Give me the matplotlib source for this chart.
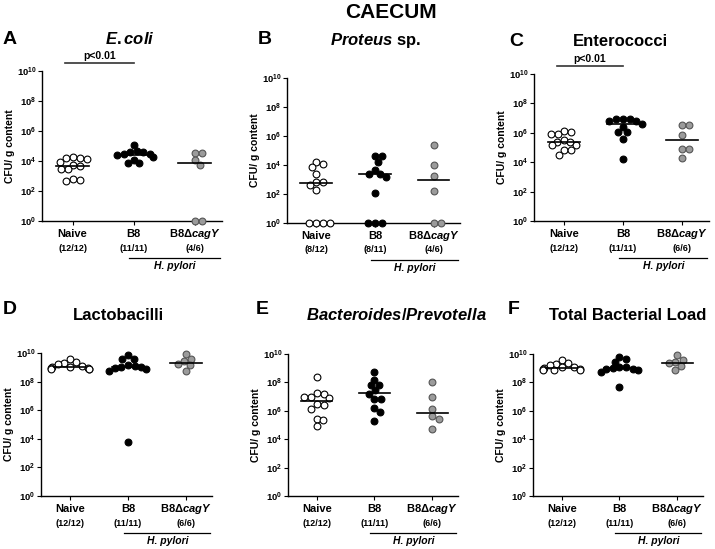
import numpy as np
import matplotlib
matplotlib.use('Agg')
import matplotlib.pyplot as plt
from matplotlib.ticker import NullLocator
from matplotlib.transforms import offset_copy

plt.rcParams['font.family'] = ['Liberation Sans', 'DejaVu Sans']
plt.rcParams['font.weight'] = 'bold'
plt.rcParams['mathtext.fontset'] = 'custom'
plt.rcParams['mathtext.rm'] = 'Liberation Sans:bold'
plt.rcParams['mathtext.bf'] = 'Liberation Sans:bold'
plt.rcParams['mathtext.it'] = 'Liberation Sans:bold:italic'

# log10(CFU / g content); 0 means nothing detected (drawn at 10^0)
groups = ['Naive', 'B8', 'B8Δ$\\mathit{cagY}$']

ecoli_naive = [4.25, 4.2, 4.2, 4.15, 3.95, 3.75, 3.7, 3.45, 3.45, 2.8, 2.75, 2.7]
ecoli_b8 = [5.1, 4.7, 4.6, 4.6, 4.5, 4.45, 4.4, 4.3, 4.1, 3.85, 3.85]
ecoli_dcag = [4.55, 4.55, 4.05, 3.75, 0, 0]
ecoli_med = [3.65, 4.4, 3.9]
ecoli_n = ['(12/12)', '(11/11)', '(4/6)']

proteus_naive = [4.22, 4.08, 3.85, 3.4, 2.85, 2.85, 2.6, 2.25, 0, 0, 0, 0]
proteus_b8 = [4.62, 4.62, 4.22, 3.64, 3.38, 3.38, 3.15, 2.05, 0, 0, 0]
proteus_dcag = [5.36, 4.0, 3.22, 2.24, 0, 0]
proteus_med = [2.75, 3.38, 2.94]
proteus_n = ['(8/12)', '(8/11)', '(4/6)']

entero_naive = [6.12, 6.08, 5.9, 5.9, 5.5, 5.4, 5.4, 5.2, 5.15, 4.85, 4.8, 4.5]
entero_b8 = [6.92, 6.92, 6.92, 6.78, 6.78, 6.6, 6.42, 6.08, 6.08, 5.56, 4.2]
entero_dcag = [6.53, 6.53, 5.85, 4.88, 4.88, 4.26]
entero_med = [5.4, 6.58, 5.51]
entero_n = ['(12/12)', '(11/11)', '(6/6)']

lacto_naive = [9.6, 9.35, 9.3, 9.2, 9.1, 9.05, 9.0, 8.95, 8.95, 8.9, 8.9, 8.9]
lacto_b8 = [9.85, 9.6, 9.55, 9.15, 9.1, 9.05, 9.0, 8.95, 8.9, 8.75, 3.75]
lacto_dcag = [9.9, 9.6, 9.45, 9.2, 9.15, 8.75]
lacto_med = [9.05, 9.05, 9.32]
lacto_n = ['(12/12)', '(11/11)', '(6/6)']

bact_naive = [8.35, 7.25, 7.2, 6.95, 6.95, 6.9, 6.45, 6.4, 6.15, 5.45, 5.35, 4.95]
bact_b8 = [8.75, 8.2, 7.85, 7.8, 7.45, 7.2, 6.85, 6.85, 6.2, 5.95, 5.25]
bact_dcag = [8.0, 6.95, 6.1, 5.6, 5.45, 4.7]
bact_med = [6.69, 7.23, 5.87]
bact_n = ['(12/12)', '(11/11)', '(6/6)']

total_naive = [9.6, 9.35, 9.3, 9.2, 9.1, 9.05, 9.0, 8.95, 8.95, 8.9, 8.9, 8.85]
total_b8 = [9.8, 9.65, 9.45, 9.1, 9.05, 9.0, 8.95, 8.95, 8.9, 8.75, 7.7]
total_dcag = [9.9, 9.6, 9.45, 9.35, 9.15, 8.85]
total_med = [9.04, 9.04, 9.38]
total_n = ['(12/12)', '(11/11)', '(6/6)']

panels = [
    ('A', '$\\mathit{E. coli}$', [ecoli_naive, ecoli_b8, ecoli_dcag], ecoli_med, ecoli_n, True),
    ('B', '$\\mathit{Proteus}$ sp.', [proteus_naive, proteus_b8, proteus_dcag], proteus_med, proteus_n, False),
    ('C', 'Enterococci', [entero_naive, entero_b8, entero_dcag], entero_med, entero_n, True),
    ('D', 'Lactobacilli', [lacto_naive, lacto_b8, lacto_dcag], lacto_med, lacto_n, False),
    ('E', '$\\mathit{Bacteroides/Prevotella}$', [bact_naive, bact_b8, bact_dcag], bact_med, bact_n, False),
    ('F', 'Total Bacterial Load', [total_naive, total_b8, total_dcag], total_med, total_n, False),
]

W, H = 715, 549
rects = [(42, 222, 71, 221), (287, 460, 78, 223), (534, 709, 74, 221),
         (41, 212, 353, 496), (288, 458, 354, 496), (533, 703, 354, 496)]
letter_pos = [(3, 39), (258, 39), (509, 42), (3, 310), (256, 310), (508, 309)]
title_pos = [(130, 39), (376, 41), (620, 42), (118, 316), (396, 315), (628, 315)]

face = ['white', 'black', '#9b9b9b']
edge = ['black', 'black', '#555555']


def swarm(vals, ax, j, diam=6.6, maxoff=0.32):
    y = np.array(vals, float)
    pts = ax.transData.transform(np.column_stack([np.full(len(y), j), 10 ** y]))
    py = pts[:, 1]
    ux = ax.transData.transform([[j + 1, 1]])[0, 0] - pts[0, 0]
    cands = [0.0]
    for k in range(1, 80):
        cands += [k * 0.5, -k * 0.5]
    placed = []
    offs = np.zeros(len(y))
    for i in np.argsort(-y, kind='stable'):
        for c in cands:
            if all((c - qx) ** 2 + (py[i] - qy) ** 2 >= diam ** 2 for qx, qy in placed):
                break
        placed.append((c, py[i]))
        offs[i] = np.clip(c / ux, -maxoff, maxoff)
    return offs


fig = plt.figure(figsize=(W / 100, H / 100), dpi=100)
fig.text(391 / W, 1 - 12 / H, 'CAECUM', ha='center', va='center', fontsize=15, fontweight='bold')

for p, (letter, title, data, med, counts, sig) in enumerate(panels):
    l, r, t, b = rects[p]
    ax = fig.add_axes([l / W, 1 - b / H, (r - l) / W, (b - t) / H])
    ax.set_yscale('log')
    ax.set_ylim(1, 1e10)
    ax.set_xlim(-0.5, 2.45)
    ax.set_yticks([10.0 ** k for k in range(0, 11, 2)])
    ax.set_yticklabels(['$\\mathbf{10^{%d}}$' % k for k in range(0, 11, 2)])
    ax.yaxis.set_minor_locator(NullLocator())
    ax.set_xticks([0, 1, 2])
    ax.set_xticklabels([])
    ax.tick_params(axis='both', length=3, width=0.8, pad=1, labelsize=6.8)
    for s in ['top', 'right']:
        ax.spines[s].set_visible(False)
    for s in ['left', 'bottom']:
        ax.spines[s].set_linewidth(1.0)
    ax.set_ylabel('CFU/ g content', fontsize=7.5, fontweight='bold')
    ax.yaxis.set_label_coords(0, 0.5, transform=offset_copy(ax.transAxes, fig=fig, x=-27, units='dots'))

    for j, vals in enumerate(data):
        offs = swarm(vals, ax, j)
        ax.scatter(j + offs, 10 ** np.array(vals, float), s=24, facecolor=face[j],
                   edgecolor=edge[j], linewidth=0.8, clip_on=False, zorder=3)
        ax.plot([j - 0.27, j + 0.27], [10 ** med[j]] * 2, color='black', lw=1.2, zorder=4)

    xt = ax.get_xaxis_transform()
    for j in range(3):
        ax.annotate(groups[j], xy=(j, 0), xycoords=xt, xytext=(0, -13 * 0.72),
                    textcoords='offset points', ha='center', va='center', fontsize=8,
                    fontweight='bold', annotation_clip=False)
        ax.annotate(counts[j], xy=(j, 0), xycoords=xt, xytext=(0, -27 * 0.72),
                    textcoords='offset points', ha='center', va='center', fontsize=6.5,
                    fontweight='bold', annotation_clip=False)
    line_tr = offset_copy(xt, fig=fig, y=-37, units='dots')
    ax.plot([0.93, 2.42], [0, 0], color='black', lw=0.9, transform=line_tr, clip_on=False)
    ax.annotate('H. pylori', xy=(1.68, 0), xycoords=xt, xytext=(0, -45 * 0.72),
                textcoords='offset points', ha='center', va='center', fontsize=7.5,
                fontweight='bold', fontstyle='italic', annotation_clip=False)

    if sig:
        ax.plot([-0.12, 1.0], [1.052, 1.052], color='#333333', lw=1.2,
                transform=xt, clip_on=False)
        ax.text(0.44, 1.10, 'p<0.01', transform=xt, ha='center', va='center',
                fontsize=7.5, fontweight='bold')

    fig.text(letter_pos[p][0] / W, 1 - letter_pos[p][1] / H, letter, ha='left',
             va='center', fontsize=14, fontweight='bold')
    fig.text(title_pos[p][0] / W, 1 - title_pos[p][1] / H, title, ha='center',
             va='center', fontsize=12, fontweight='bold')

fig.savefig('out.png', dpi=100)
